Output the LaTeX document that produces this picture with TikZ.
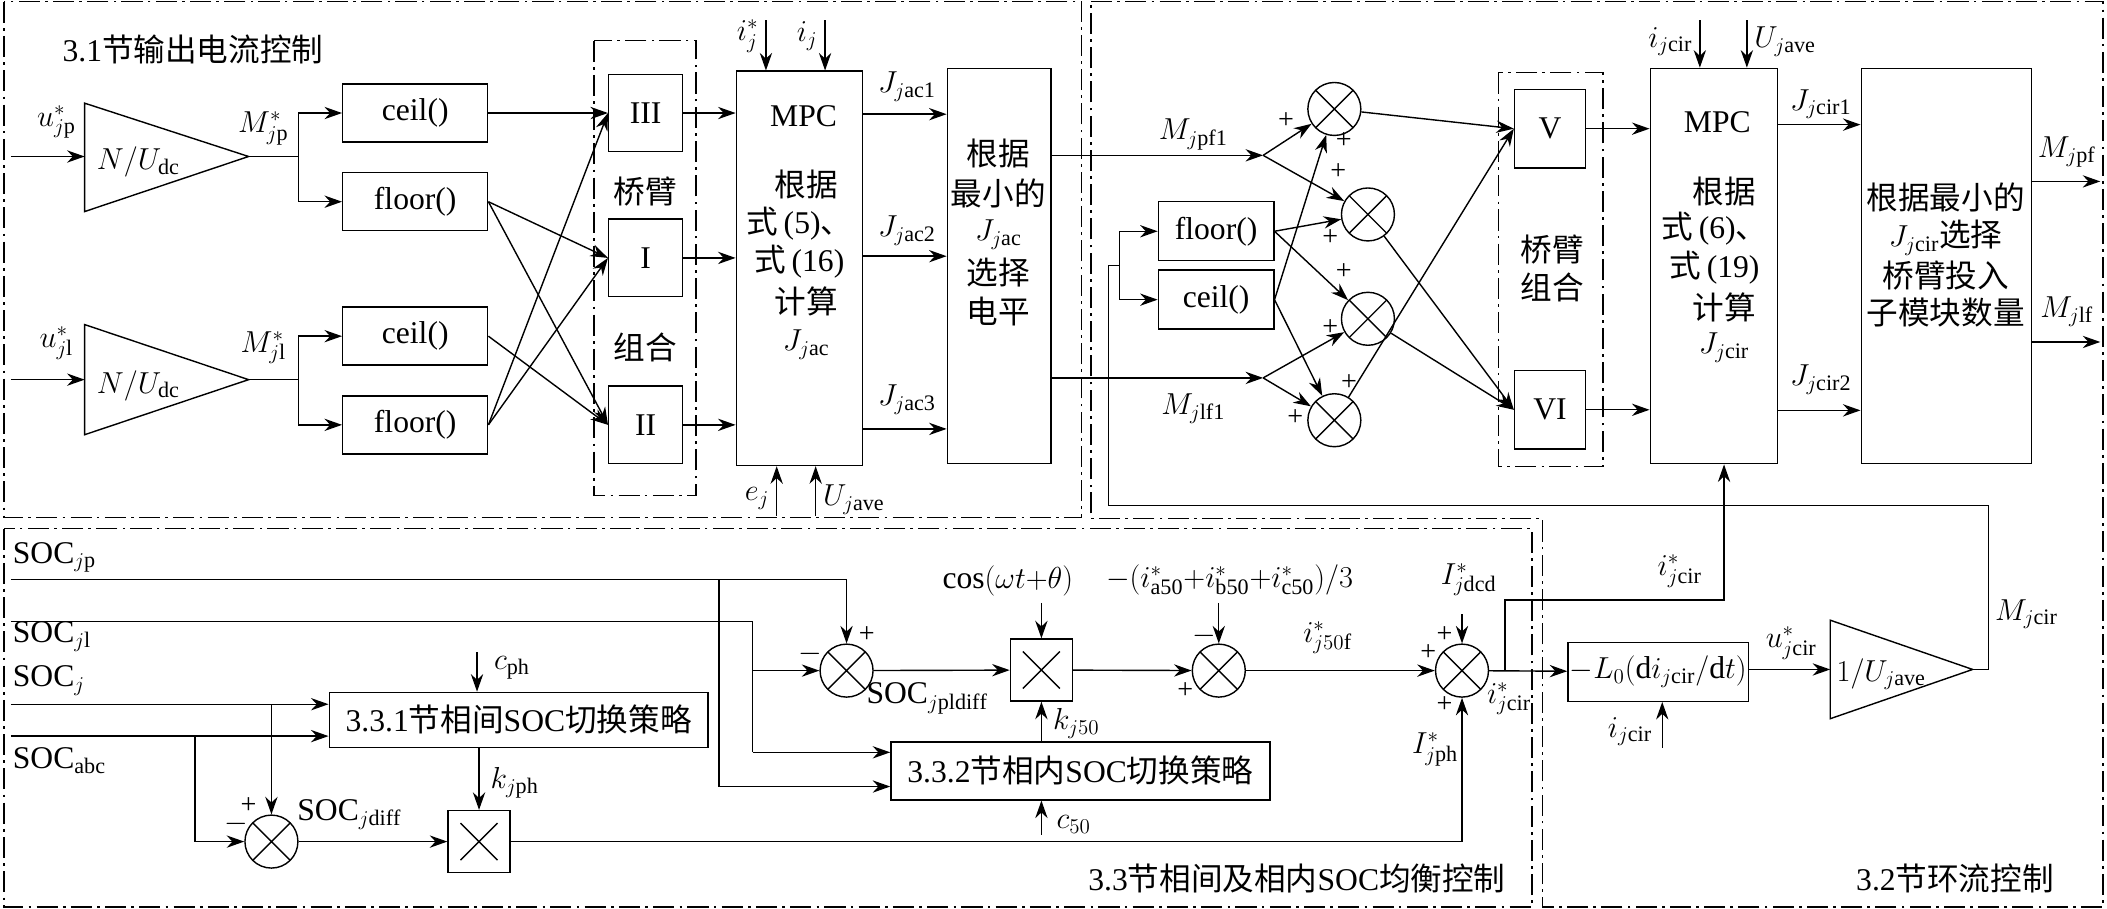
\documentclass[tikz,border=0pt]{standalone}
\usepackage{fontspec}
\setmainfont{Liberation Serif}
\newfontfamily\cjk{Noto Sans CJK SC}
\usetikzlibrary{arrows.meta,calc}
\newcommand\myfs{\fontsize{18}{21}\selectfont}
\begin{document}
\begin{tikzpicture}[x=0.02688cm,y=-0.0116cm,
  every node/.style={font=\myfs,inner sep=1pt},
  ln/.style={line width=0.8pt},
  arr/.style={line width=0.8pt,-{Stealth[length=10pt,width=7pt]}},
  box/.style={draw,line width=0.8pt,minimum width=#1},
  frame/.style={line width=0.8pt,dash pattern=on 12pt off 3pt on 1.5pt off 3pt},
  sum/.style={draw,circle,line width=0.8pt,minimum size=1.06cm,inner sep=0pt,
     path picture={\draw[line width=0.8pt] (path picture bounding box.north west)--(path picture bounding box.south east)
       (path picture bounding box.north east)--(path picture bounding box.south west);}},
  mul/.style={draw,line width=0.8pt,minimum width=1.24cm,minimum height=1.24cm,inner sep=0pt,
     path picture={\draw[line width=0.8pt] ([shift={(0.25cm,-0.25cm)}]path picture bounding box.north west)--([shift={(-0.25cm,0.25cm)}]path picture bounding box.south east)
       ([shift={(-0.25cm,-0.25cm)}]path picture bounding box.north east)--([shift={(0.25cm,0.25cm)}]path picture bounding box.south west);}},
  pm/.style={font=\fontsize{16}{18}\selectfont,inner sep=0pt}
]
\useasboundingbox (0,0) rectangle (1568,1568);
% frames
\draw[frame] (3,3) rectangle (805,893);
\draw[frame] (812,3) -- (1565,3) -- (1565,1565) -- (1148,1565) -- (1148,895) -- (812,895) -- cycle;
\draw[frame] (3,912) rectangle (1140,1565);
\node[anchor=west] (t31) at (45,85) {3.1{\cjk 节输出电流控制}};
\node[anchor=east] (t33) at (1122,1515) {3.3{\cjk 节相间及相内}SOC{\cjk 均衡控制}};
\node[anchor=east] (t32) at (1530,1515) {3.2{\cjk 节环流控制}};

% ---------- 3.1 ----------
\coordinate (t1a) at (63,178); \coordinate (t1b) at (63,365); \coordinate (t1tip) at (185,270);
\draw[ln] (t1a)--(t1tip)--(t1b)--cycle;
\node (t1txt) at (103,280) {$N/U_{\mathrm{dc}}$};
\coordinate (t2a) at (63,560); \coordinate (t2b) at (63,750); \coordinate (t2tip) at (185,655);
\draw[ln] (t2a)--(t2tip)--(t2b)--cycle;
\node (t2txt) at (103,665) {$N/U_{\mathrm{dc}}$};
\coordinate (ujp) at (8,270); \coordinate (ujl) at (8,655);
\draw[arr] (ujp) -- (t1a |- ujp);
\draw[arr] (ujl) -- (t2a |- ujl);
\node (lujp) at (42,210) {$u_{j\mathrm{p}}^{*}$};
\node (lujl) at (42,592) {$u_{j\mathrm{l}}^{*}$};
\node (lMjp) at (196,222) {$M_{j\mathrm{p}}^{*}$};
\node (lMjl) at (196,600) {$M_{j\mathrm{l}}^{*}$};

\node[box=2.9cm,minimum height=1.16cm] (c1) at (309,195) {ceil()};
\node[box=2.9cm,minimum height=1.16cm] (f1) at (309,348) {floor()};
\node[box=2.9cm,minimum height=1.16cm] (c2) at (309,580) {ceil()};
\node[box=2.9cm,minimum height=1.16cm] (f2) at (309,733) {floor()};
\coordinate (s1) at (222,270); \coordinate (s2) at (222,655);
\draw[ln] (t1tip) -- (s1); \draw[ln] (t2tip) -- (s2);
\draw[arr] (s1) |- (c1.west); \draw[arr] (s1) |- (f1.west);
\draw[arr] (s2) |- (c2.west); \draw[arr] (s2) |- (f2.west);

\draw[frame] (442,70) rectangle (518,855);
\node[box=1.48cm,minimum height=1.55cm] (b3) at (480.5,195) {III};
\node[box=1.48cm,minimum height=1.55cm] (b1) at (480.5,445) {I};
\node[box=1.48cm,minimum height=1.55cm] (b2) at (480.5,733) {II};
\node (qb1) at (480,330) {\cjk 桥臂};
\node (zh1) at (480,600) {\cjk 组合};
\draw[arr] (c1.east) -- (b3.west);
\draw[arr] (f1.east) -- (b1.west);
\draw[arr] (f1.east) -- (b2.west);
\draw[arr] (c2.east) -- (b2.west);
\draw[arr] (f2.east) -- (b3.west);
\draw[arr] (f2.east) -- (b1.west);

\node[box=2.53cm,minimum height=7.89cm] (mpc1) at (595,463) {};
\node (m1a) at (598,200) {MPC};
\node (m1b) at (600,318) {\cjk 根据};
\node (m1c) at (595,385) {{\cjk 式}\,(5){\cjk 、}};
\node (m1d) at (595,452) {{\cjk 式}\,(16)};
\node (m1e) at (600,520) {\cjk 计算};
\node (m1f) at (600,595) {$J_{j\mathrm{ac}}$};
\draw[arr] (b3.east) -- (mpc1.west |- b3.east);
\draw[arr] (b1.east) -- (mpc1.west |- b1.east);
\draw[arr] (b2.east) -- (mpc1.west |- b2.east);
\coordinate (ijs) at (570,35); \coordinate (ij) at (614,35);
\draw[arr] (ijs) -- (ijs |- mpc1.north);
\draw[arr] (ij) -- (ij |- mpc1.north);
\node[anchor=east] (lijs) at (566,62) {$i_j^{*}$};
\node[anchor=east] (lij) at (610,62) {$i_j$};
\coordinate (ej) at (578,890); \coordinate (uj1) at (607,890);
\draw[arr] (ej) -- (ej |- mpc1.south);
\draw[arr] (uj1) -- (uj1 |- mpc1.south);
\node[anchor=east] (lej) at (574,860) {$e_j$};
\node[anchor=west] (luj1) at (611,862) {$U_{j\mathrm{ave}}$};

\node[box=2.07cm,minimum height=7.91cm] (sel1) at (743.5,459) {};
\node (s1a) at (743,265) {\cjk 根据};
\node (s1b) at (743,333) {\cjk 最小的};
\node (s1c) at (743,405) {$J_{j\mathrm{ac}}$};
\node (s1d) at (743,470) {\cjk 选择};
\node (s1e) at (743,538) {\cjk 电平};
\coordinate (ja1) at (642,197); \coordinate (ja2) at (642,442); \coordinate (ja3) at (642,740);
\draw[arr] (ja1) -- (sel1.west |- ja1);
\draw[arr] (ja2) -- (sel1.west |- ja2);
\draw[arr] (ja3) -- (sel1.west |- ja3);
\node (lja1) at (675,150) {$J_{j\mathrm{ac1}}$};
\node (lja2) at (675,398) {$J_{j\mathrm{ac2}}$};
\node (lja3) at (675,690) {$J_{j\mathrm{ac3}}$};

% ---------- 3.2 ----------
\coordinate (jpf) at (940,268); \coordinate (jlf) at (940,652);
\draw[arr] (sel1.east |- jpf) -- (jpf);
\draw[arr] (sel1.east |- jlf) -- (jlf);
\node (lMpf1) at (888,232) {$M_{j\mathrm{pf1}}$};
\node (lMlf1) at (888,705) {$M_{j\mathrm{lf1}}$};
\node[sum] (S1) at (993,188) {};
\node[sum] (S2) at (1018,370) {};
\node[sum] (S3) at (1018,550) {};
\node[sum] (S4) at (993,725) {};
\node[box=2.31cm,minimum height=1.18cm] (fr) at (905,399) {floor()};
\node[box=2.31cm,minimum height=1.18cm] (cr) at (905,517) {ceil()};
\draw[arr] (jpf) -- (S1); \draw[arr] (jpf) -- (S2);
\draw[arr] (jlf) -- (S3); \draw[arr] (jlf) -- (S4);
\draw[arr] (fr.east) -- (S2); \draw[arr] (fr.east) -- (S3);
\draw[arr] (cr.east) -- (S1); \draw[arr] (cr.east) -- (S4);
\node[pm] (p1) at (957,208) {+}; \node[pm] (p2) at (1000,243) {+};
\node[pm] (p3) at (996,296) {+}; \node[pm] (p4) at (990,410) {+};
\node[pm] (p5) at (1000,468) {+}; \node[pm] (p6) at (990,565) {+};
\node[pm] (p7) at (1004,660) {+}; \node[pm] (p8) at (964,720) {+};

\draw[frame] (1115,125) rectangle (1193,805);
\node[box=1.42cm,minimum height=1.57cm] (bV) at (1153.5,222) {V};
\node[box=1.42cm,minimum height=1.57cm] (bVI) at (1153.5,707) {VI};
\node (qb2) at (1155,430) {\cjk 桥臂};
\node (zh2) at (1155,495) {\cjk 组合};
\draw[arr] (S1) -- (bV.west); \draw[arr] (S4) -- (bV.west);
\draw[arr] (S2) -- (bVI.west); \draw[arr] (S3) -- (bVI.west);

\node[box=2.55cm,minimum height=7.91cm] (mpc2) at (1275.5,459) {};
\node (m2a) at (1278,210) {MPC};
\node (m2b) at (1283,330) {\cjk 根据};
\node (m2c) at (1276,395) {{\cjk 式}\,(6){\cjk 、}};
\node (m2d) at (1276,462) {{\cjk 式}\,(19)};
\node (m2e) at (1283,530) {\cjk 计算};
\node (m2f) at (1283,600) {$J_{j\mathrm{cir}}$};
\draw[arr] (bV.east) -- (mpc2.west |- bV.east);
\draw[arr] (bVI.east) -- (mpc2.west |- bVI.east);
\coordinate (ic) at (1265,35); \coordinate (uj2) at (1300,35);
\draw[arr] (ic) -- (ic |- mpc2.north);
\draw[arr] (uj2) -- (uj2 |- mpc2.north);
\node[anchor=east] (lic) at (1261,72) {$i_{j\mathrm{cir}}$};
\node[anchor=west] (luj2) at (1304,72) {$U_{j\mathrm{ave}}$};

\node[box=3.41cm,minimum height=7.91cm] (sel2) at (1448.5,459) {};
\node (s2a) at (1448,340) {\cjk 根据最小的};
\node (s2b) at (1448,410) {$J_{j\mathrm{cir}}${\cjk 选择}};
\node (s2c) at (1448,475) {\cjk 桥臂投入};
\node (s2d) at (1448,540) {\cjk 子模块数量};
\coordinate (jc1) at (1323,215); \coordinate (jc2) at (1323,708);
\draw[arr] (jc1) -- (sel2.west |- jc1);
\draw[arr] (jc2) -- (sel2.west |- jc2);
\node (ljc1) at (1355,180) {$J_{j\mathrm{cir1}}$};
\node (ljc2) at (1355,655) {$J_{j\mathrm{cir2}}$};
\coordinate (opf) at (1563,313); \coordinate (olf) at (1563,590);
\draw[arr] (sel2.east |- opf) -- (opf);
\draw[arr] (sel2.east |- olf) -- (olf);
\node (lMpf) at (1538,262) {$M_{j\mathrm{pf}}$};
\node (lMlf) at (1538,538) {$M_{j\mathrm{lf}}$};

% ---------- 3.3 ----------
\node[mul] (X1) at (775,1156) {};
\node[mul] (X2) at (356.5,1452) {};
\node[sum] (S5) at (630,1157) {};
\node[sum] (S6) at (907,1157) {};
\node[sum] (S7) at (1088,1157) {};
\node[sum] (S8) at (202,1452) {};
\node[box=7.58cm,minimum height=1.16cm] (B332) at (804,1330) {3.3.2{\cjk 节相内}SOC{\cjk 切换策略}};
\node[box=7.58cm,minimum height=1.10cm] (B331) at (386,1242) {3.3.1{\cjk 节相间}SOC{\cjk 切换策略}};
\node[box=3.55cm,minimum height=1.18cm] (Lb) at (1234,1159) {$-L_0(\mathrm{d}i_{j\mathrm{cir}}/\mathrm{d}t)$};

\node[anchor=west] (lsjp) at (8,962) {SOC$_{j\mathrm{p}}$};
\node[anchor=west] (lsjl) at (8,1098) {SOC$_{j\mathrm{l}}$};
\node[anchor=west] (lsj) at (8,1174) {SOC$_{j}$};
\node[anchor=west] (lsabc) at (8,1312) {SOC$_{\mathrm{abc}}$};
\coordinate (ijp) at (8,1000); \coordinate (ijl) at (8,1072);
\coordinate (isj) at (8,1215); \coordinate (isabc) at (8,1270);
\coordinate (kp) at (535,1000); \coordinate (kl) at (560,1072);
\draw[ln] (ijp) -- (630,1000);
\draw[arr] (630,1000) -- (S5);
\draw[arr] (kp) |- (B332.west |- 0,1357);
\draw[ln] (ijl) -- (kl) -- (560,1298);
\draw[arr] (560,1298) -- (B332.west |- 0,1298);
\draw[arr] (560,1157) -- (S5);
\node[pm] (p9) at (645,1095) {+}; \node[pm] (m9) at (603,1128) {$-$};
\node (lpldiff) at (690,1205) {SOC$_{j\mathrm{pldiff}}$};
\draw[arr] (S5) -- (X1);
\coordinate (cosq) at (775,1040);
\draw[arr] (cosq) -- (X1);
\node (lcos) at (750,1002) {$\cos(\omega t{+}\theta)$};
\draw[arr] (B332.north -| X1) -- (X1);
\node (lk50) at (801,1248) {$k_{j50}$};
\coordinate (c50) at (775,1440);
\draw[arr] (c50) -- (B332.south -| c50);
\node (lc50) at (799,1422) {$c_{50}$};
\draw[arr] (X1) -- (S6);
\node[pm] (p10) at (882,1192) {+};
\coordinate (iabc) at (907,1040);
\draw[arr] (iabc) -- (S6);
\node (labc) at (915,1000) {$-(i_{\mathrm{a50}}^{*}{+}i_{\mathrm{b50}}^{*}{+}i_{\mathrm{c50}}^{*})/3$};
\node[pm] (m10) at (896,1097) {$-$};
\draw[arr] (S6) -- (S7);
\node (lj50f) at (988,1100) {$i_{j50\mathrm{f}}^{*}$};
\node[pm] (p11) at (1063,1125) {+};
\coordinate (idcd) at (1088,1060);
\draw[arr] (idcd) -- (S7);
\node (lidcd) at (1093,1000) {$I_{j\mathrm{dcd}}^{*}$};
\node[pm] (p12) at (1075,1095) {+};
\node[pm] (p13) at (1075,1215) {+};
\node (liph) at (1068,1293) {$I_{j\mathrm{ph}}^{*}$};

\draw[arr] (isj) -- (B331.west |- isj);
\draw[arr] (isabc) -- (B331.west |- isabc);
\draw[arr] (202,1215) -- (S8);
\draw[ln] (145,1270) -- (145,1452);
\draw[arr] (145,1452) -- (S8);
\node[pm] (p14) at (185,1390) {+}; \node[pm] (m14) at (176,1422) {$-$};
\coordinate (cph) at (355,1125);
\draw[arr] (cph) -- (B331.north -| cph);
\node (lcph) at (381,1152) {$c_{\mathrm{ph}}$};
\draw[arr] (B331.south -| X2) -- (X2);
\node (lkph) at (383,1350) {$k_{j\mathrm{ph}}$};
\draw[arr] (S8) -- (X2);
\node (lsdiff) at (260,1405) {SOC$_{j\mathrm{diff}}$};
\draw[ln] (X2) -- (1088,1452);
\draw[arr] (1088,1452) -- (S7);

% ---------- circulating loop ----------
\draw[arr] (S7) -- (Lb);
\node (licir) at (1123,1205) {$i_{j\mathrm{cir}}^{*}$};
\draw[arr] (1120,1157) -- (1120,1035) -- (1283,1035) -- (mpc2.south -| 1283,0);
\node (licir2) at (1250,985) {$i_{j\mathrm{cir}}^{*}$};
\coordinate (icb) at (1237,1290);
\draw[arr] (icb) -- (Lb.south -| icb);
\node[anchor=east] (licb) at (1231,1262) {$i_{j\mathrm{cir}}$};
\coordinate (t3a) at (1362,1070); \coordinate (t3b) at (1362,1240); \coordinate (t3tip) at (1468,1155);
\draw[ln] (t3a)--(t3tip)--(t3b)--cycle;
\node (t3txt) at (1400,1163) {$1/U_{j\mathrm{ave}}$};
\draw[arr] (Lb.east |- t3tip) -- (t3a |- t3tip);
\node (lucir) at (1333,1110) {$u_{j\mathrm{cir}}^{*}$};
\node (lMcir) at (1508,1060) {$M_{j\mathrm{cir}}$};
\coordinate (fbk) at (833,458);
\draw[ln] (t3tip) -- (1480,1155) -- (1480,872) -- (825,872) -- (825,458) -- (fbk);
\draw[arr] (fbk) |- (fr.west);
\draw[arr] (fbk) |- (cr.west);
\end{tikzpicture}
\end{document}
